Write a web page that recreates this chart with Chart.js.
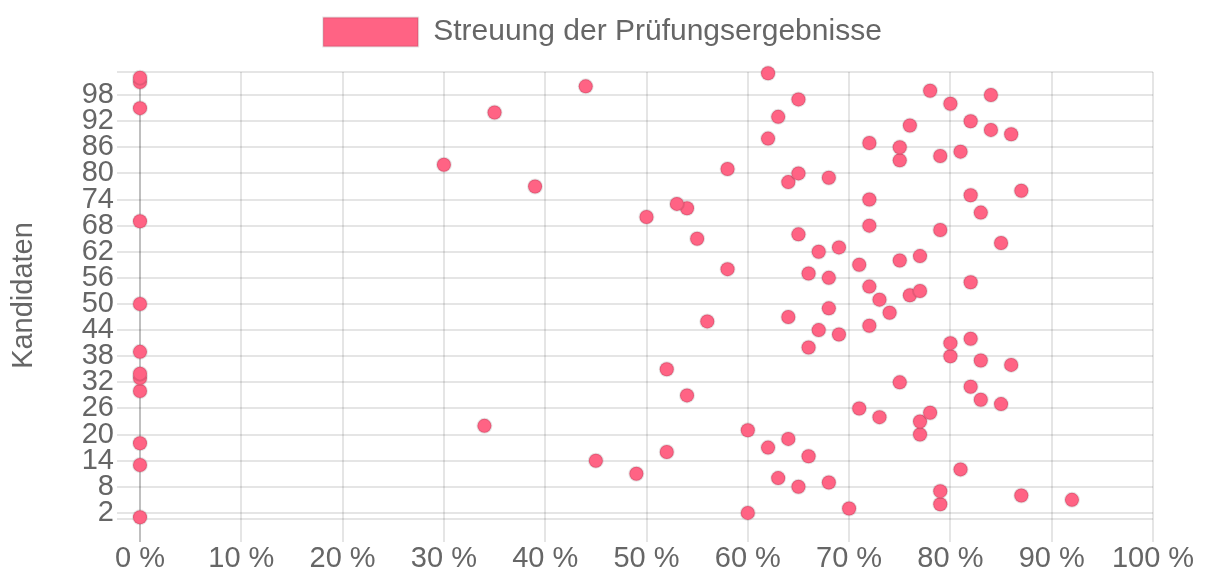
<!DOCTYPE html>
<html>
<head>
<meta charset="utf-8">
<script src="https://cdn.jsdelivr.net/npm/chart.js@4/dist/chart.umd.min.js"></script>
<style>
  body {margin: 0; background: #fff;}
  #wrap {width: 1205px; height: 572px;}
</style>
</head>
<body>
<div id="wrap"><canvas id="chart"></canvas></div>
<script>
// Kandidat-Nummer (y) und Ergebnis in Prozent (x)
const candidates = [
  1, 2, 3, 4, 5, 6, 7, 8, 9, 10,
  11, 12, 13, 14, 15, 16, 17, 18, 19, 20,
  21, 22, 23, 24, 25, 26, 27, 28, 29, 30,
  31, 32, 33, 34, 35, 36, 37, 38, 39, 40,
  41, 42, 43, 44, 45, 46, 47, 48, 49, 50,
  51, 52, 53, 54, 55, 56, 57, 58, 59, 60,
  61, 62, 63, 64, 65, 66, 67, 68, 69, 70,
  71, 72, 73, 74, 75, 76, 77, 78, 79, 80,
  81, 82, 83, 84, 85, 86, 87, 88, 89, 90,
  91, 92, 93, 94, 95, 96, 97, 98, 99, 100,
  101, 102, 103,
];
const scores = [
  0, 60, 70, 79, 92, 87, 79, 65, 68, 63,
  49, 81, 0, 45, 66, 52, 62, 0, 64, 77,
  60, 34, 77, 73, 78, 71, 85, 83, 54, 0,
  82, 75, 0, 0, 52, 86, 83, 80, 0, 66,
  80, 82, 69, 67, 72, 56, 64, 74, 68, 0,
  73, 76, 77, 72, 82, 68, 66, 58, 71, 75,
  77, 67, 69, 85, 55, 65, 79, 72, 0, 50,
  83, 54, 53, 72, 82, 87, 39, 64, 68, 65,
  58, 30, 75, 79, 81, 75, 72, 62, 86, 84,
  76, 82, 63, 35, 0, 80, 65, 84, 78, 44,
  0, 0, 62,
];
const yTickLabels = [2, 8, 14, 20, 26, 32, 38, 44, 50, 56, 62, 68, 74, 80, 86, 92, 98];
const xTickLabels = [0, 10, 20, 30, 40, 50, 60, 70, 80, 90, 100];
const seriesLabel = 'Streuung der Prüfungsergebnisse';
const yAxisTitle = 'Kandidaten';

const yMin = 0.6;
const yMax = 103.3;
const textColor = '#666';
const fontFamily = '"Liberation Sans", Arial, Helvetica, sans-serif';

Chart.defaults.font.family = fontFamily;
Chart.defaults.font.size = 29;
Chart.defaults.color = textColor;

// extra space below the legend, and center it on the whole canvas
const legendTweaks = {
  id: 'legendTweaks',
  beforeInit(chart) {
    const fit = chart.legend.fit;
    chart.legend.fit = function() {
      fit.bind(chart.legend)();
      this.height += 15;
    };
  },
  afterLayout(chart) {
    chart.legend.left = 0;
    chart.legend.right = chart.width;
  },
};

new Chart(document.getElementById('chart'), {
  type: 'scatter',
  data: {
    datasets: [{
      label: seriesLabel,
      data: candidates.map((c, i) => ({x: scores[i], y: c})),
      backgroundColor: 'rgb(255, 99, 132)',
      borderColor: 'rgba(0, 0, 0, 0.1)',
      borderWidth: 2,
      pointRadius: 7,
      pointHoverRadius: 7,
      clip: false,
    }],
  },
  options: {
    responsive: true,
    maintainAspectRatio: false,
    animation: false,
    layout: {
      padding: {top: 7, right: 52, bottom: 0, left: 0},
    },
    plugins: {
      legend: {
        labels: {
          boxWidth: 95,
          boxHeight: 29,
          padding: 10,
          color: textColor,
          font: {size: 30},
        },
      },
      tooltip: {enabled: false},
    },
    scales: {
      x: {
        type: 'linear',
        min: 0,
        max: 100,
        afterBuildTicks: (axis) => {
          axis.ticks = xTickLabels.map((v) => ({value: v}));
        },
        afterFit: (axis) => {
          axis.height = 53;
        },
        ticks: {
          padding: 0,
          maxRotation: 0,
          callback: (v) => v + ' %',
        },
        grid: {
          color: (ctx) => ctx.tick && ctx.tick.value === 0 ?
            'rgba(0, 0, 0, 0.25)' : 'rgba(0, 0, 0, 0.1)',
          lineWidth: 2,
          tickLength: 23,
        },
        border: {display: false},
      },
      y: {
        type: 'linear',
        min: yMin,
        max: yMax,
        afterBuildTicks: (axis) => {
          axis.ticks = [yMin, ...yTickLabels, yMax].map((v) => ({value: v}));
        },
        afterFit: (axis) => {
          axis.width = 140;
        },
        ticks: {
          autoSkip: false,
          padding: 3,
          callback: (v) => yTickLabels.includes(v) ? v : '',
        },
        grid: {
          color: 'rgba(0, 0, 0, 0.1)',
          lineWidth: 2,
          tickLength: 23,
        },
        border: {display: false},
        title: {
          display: true,
          text: yAxisTitle,
          padding: {top: 7, bottom: 0},
        },
      },
    },
  },
  plugins: [legendTweaks],
});
</script>
</body>
</html>
